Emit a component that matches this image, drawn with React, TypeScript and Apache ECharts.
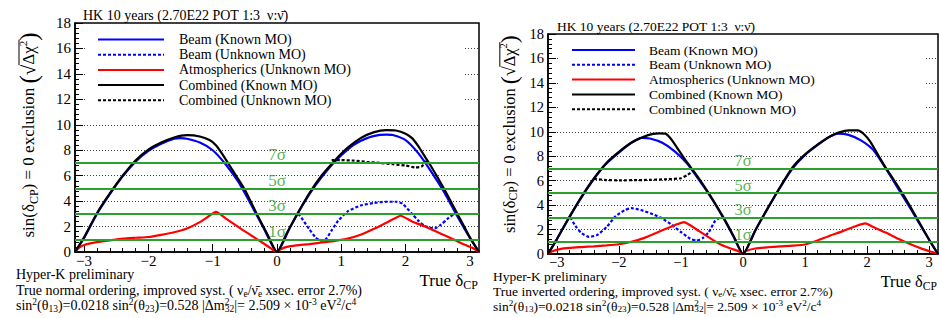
import React, { useEffect, useRef } from 'react';
import * as echarts from 'echarts';

const PI = Math.PI;
const FONT = 'Liberation Serif';

// ---------- tick values ----------
const xTicks = [-3, -2, -1, 0, 1, 2, 3];
const xMinorTicks = [
  -3.0, -2.8, -2.6, -2.4, -2.2, -2.0, -1.8, -1.6, -1.4, -1.2, -1.0, -0.8, -0.6, -0.4, -0.2, 0,
  0.2, 0.4, 0.6, 0.8, 1.0, 1.2, 1.4, 1.6, 1.8, 2.0, 2.2, 2.4, 2.6, 2.8, 3.0,
];
const sigmaLevels = [1, 3, 5, 7];
const sigmaLabels = ['1σ', '3σ', '5σ', '7σ'];
const sigmaLabelX = -0.13;

// ---------- Normal ordering (left panel) ----------
const noBeamKnown = [[-PI,0],[-3.0,1.1],[-2.8,3.0],[-2.6,4.55],[-2.4,5.95],[-2.2,7.1],[-2.0,7.95],[-1.8,8.5],[-1.6,8.9],[-1.5,8.95],[-1.4,8.9],[-1.2,8.6],[-1.0,8.0],[-0.8,6.9],[-0.6,5.5],[-0.4,3.7],[-0.2,1.8],[0,0],[0.2,1.9],[0.4,3.7],[0.6,5.25],[0.8,6.55],[1.0,7.6],[1.2,8.45],[1.4,8.95],[1.6,9.2],[1.7,9.23],[1.8,9.2],[2.0,8.8],[2.2,7.75],[2.4,6.3],[2.6,4.7],[2.8,2.85],[3.0,1.1],[PI,0]];
const noBeamUnknown = [[0.33,3.0],[0.4,2.55],[0.5,1.8],[0.6,1.15],[0.68,0.9],[0.75,0.95],[0.85,1.7],[0.95,2.45],[1.1,3.2],[1.3,3.65],[1.5,3.85],[1.7,3.95],[1.85,3.95],[1.95,3.8],[2.1,3.0],[2.2,2.45],[2.3,2.05],[2.45,1.85],[2.55,2.15],[2.65,2.6],[2.77,3.05]];
const noAtmos = [[-PI,0],[-3.1,0.25],[-3.0,0.55],[-2.8,0.78],[-2.6,0.92],[-2.4,1.05],[-2.2,1.12],[-2.0,1.18],[-1.8,1.35],[-1.6,1.55],[-1.4,1.85],[-1.2,2.35],[-1.05,2.85],[-0.95,3.15],[-0.8,2.65],[-0.6,1.95],[-0.4,1.3],[-0.2,0.65],[-0.1,0.3],[0,0],[0.05,0.2],[0.15,0.4],[0.3,0.52],[0.5,0.62],[0.7,0.75],[0.9,0.88],[1.1,1.05],[1.3,1.35],[1.5,1.8],[1.7,2.3],[1.85,2.7],[1.92,2.85],[2.1,2.4],[2.3,2.0],[2.5,1.55],[2.7,1.1],[2.9,0.6],[3.05,0.3],[PI,0]];
const noCombKnown = [[-PI,0],[-3.0,1.15],[-2.8,3.05],[-2.6,4.6],[-2.4,6.0],[-2.2,7.2],[-2.0,8.05],[-1.8,8.6],[-1.6,9.0],[-1.4,9.18],[-1.2,9.08],[-1.05,8.8],[-0.95,8.4],[-0.85,7.7],[-0.7,6.5],[-0.5,4.9],[-0.3,2.85],[-0.15,1.4],[0,0],[0.15,1.45],[0.3,2.85],[0.5,4.6],[0.7,6.05],[0.9,7.2],[1.1,8.2],[1.3,8.95],[1.5,9.4],[1.7,9.58],[1.85,9.55],[2.0,9.3],[2.1,8.95],[2.2,8.3],[2.3,7.5],[2.4,6.7],[2.6,4.95],[2.8,3.05],[3.0,1.15],[PI,0]];
const noCombUnknown = [[0.85,7.22],[1.0,7.22],[1.2,7.18],[1.4,7.08],[1.6,7.0],[1.8,6.9],[2.0,6.8],[2.15,6.65],[2.25,6.72],[2.34,7.25]];

// ---------- Inverted ordering (right panel) ----------
const ioBeamKnown = [[-PI,0],[-3.0,1.2],[-2.8,3.0],[-2.6,4.65],[-2.4,6.15],[-2.2,7.4],[-2.0,8.3],[-1.8,9.1],[-1.63,9.5],[-1.5,9.45],[-1.3,9.1],[-1.1,8.4],[-0.9,7.4],[-0.7,6.0],[-0.5,4.5],[-0.3,2.8],[-0.15,1.4],[0,0],[0.2,1.95],[0.4,3.75],[0.6,5.45],[0.8,7.0],[1.0,8.1],[1.2,8.9],[1.4,9.6],[1.53,9.85],[1.7,9.75],[1.9,9.3],[2.1,8.5],[2.3,7.0],[2.5,5.35],[2.7,3.7],[2.9,2.0],[3.05,0.75],[PI,0]];
const ioBeamUnknown = [[-2.78,3.0],[-2.7,2.3],[-2.6,1.7],[-2.48,1.4],[-2.35,1.55],[-2.2,2.2],[-2.05,3.1],[-1.9,3.6],[-1.8,3.75],[-1.65,3.6],[-1.45,3.25],[-1.3,2.9],[-1.15,2.4],[-1.0,1.8],[-0.85,1.25],[-0.75,1.1],[-0.65,1.3],[-0.55,1.8],[-0.45,2.7],[-0.36,3.0]];
const ioAtmos = [[-PI,0],[-3.08,0.2],[-2.95,0.4],[-2.8,0.5],[-2.6,0.57],[-2.4,0.63],[-2.2,0.7],[-2.0,0.8],[-1.8,1.0],[-1.6,1.3],[-1.4,1.72],[-1.2,2.15],[-1.05,2.45],[-0.95,2.6],[-0.85,2.35],[-0.7,1.85],[-0.5,1.2],[-0.35,0.75],[-0.2,0.45],[-0.08,0.25],[0,0],[0.05,0.25],[0.2,0.45],[0.4,0.55],[0.6,0.62],[0.8,0.68],[1.0,0.78],[1.2,1.1],[1.4,1.5],[1.6,1.85],[1.8,2.25],[1.97,2.5],[2.1,2.2],[2.3,1.75],[2.5,1.25],[2.7,0.8],[2.9,0.4],[3.05,0.15],[PI,0]];
const ioCombKnown = [[-PI,0],[-3.0,1.2],[-2.8,3.0],[-2.6,4.7],[-2.4,6.2],[-2.2,7.45],[-2.0,8.35],[-1.8,9.1],[-1.6,9.6],[-1.45,9.83],[-1.35,9.87],[-1.25,9.85],[-1.15,9.35],[-1.05,8.6],[-0.95,7.85],[-0.85,7.15],[-0.7,6.1],[-0.5,4.55],[-0.3,2.85],[-0.15,1.45],[0,0],[0.2,1.95],[0.4,3.75],[0.6,5.5],[0.8,7.1],[1.0,8.15],[1.2,8.95],[1.4,9.62],[1.55,9.95],[1.7,10.12],[1.85,10.12],[1.95,9.8],[2.05,9.2],[2.2,7.9],[2.3,7.05],[2.4,6.3],[2.6,4.7],[2.8,2.95],[3.0,1.15],[PI,0]];
const ioCombUnknown = [[-2.4,6.15],[-2.2,6.05],[-2.0,6.03],[-1.6,6.05],[-1.2,6.12],[-1.0,6.2],[-0.9,6.45],[-0.8,6.8]];

const legendNames = ['Beam (Known MO)', 'Beam (Unknown MO)', 'Atmospherics (Unknown MO)', 'Combined (Known MO)', 'Combined (Unknown MO)'];
const legendColors = ['#0000ff', '#0000ff', '#ff0000', '#000000', '#000000'];
const legendDashed = [false, true, false, false, true];

const GREEN = '#2ca02c';
const DASH = [3, 2];

// ---------- text layout helper ----------
let _ctx: CanvasRenderingContext2D | null = null;
function fontStr(s: number) {
  return `${Math.round(s * 10) / 10}px ${FONT}`;
}
function measure(t: string, s: number) {
  if (!_ctx) _ctx = document.createElement('canvas').getContext('2d');
  _ctx!.font = fontStr(s);
  return _ctx!.measureText(t).width;
}
type Tok = { t: string; s?: number; dy?: number; keep?: boolean };
function layoutRun(toks: Tok[], base: number, x0: number, y0: number, align: string, fill: string, z = 10) {
  let x = 0;
  const items: any[] = [];
  for (const tk of toks) {
    const s = tk.s ?? base;
    const w = measure(tk.t, s);
    items.push({ tk, s, x, w });
    if (!tk.keep) x += w;
  }
  const W = x;
  const start = align === 'left' ? x0 : align === 'right' ? x0 - W : x0 - W / 2;
  const els = items.map((it) => ({
    type: 'text',
    x: start + it.x,
    y: y0 + (it.tk.dy ?? 0),
    z,
    silent: true,
    style: {
      text: it.tk.t,
      font: fontStr(it.s),
      fill,
      align: 'left',
      verticalAlign: 'middle',
      textAlign: 'left',
      textVerticalAlign: 'middle',
    },
  }));
  const pos = items.map((it) => ({ x: start + it.x, w: it.w }));
  return { els, pos };
}

function yTitle(cx: number, cy: number, k: number) {
  const n = 17 * k, sm = 12 * k;
  const toks: Tok[] = [
    { t: 'sin(δ', s: n },
    { t: 'CP', s: sm, dy: 5 * k },
    { t: ') = 0 exclusion ', s: n },
    { t: '(', s: 25 * k, dy: 0 },
    { t: '√', s: 19 * k, dy: 0 },
    { t: 'Δχ', s: n },
    { t: '2', s: 11 * k, dy: -6 * k },
    { t: ')', s: 25 * k, dy: 0 },
  ];
  const r = layoutRun(toks, n, 0, 0, 'center', '#000');
  const p5 = r.pos[5], p6 = r.pos[6];
  const over = {
    type: 'line',
    silent: true,
    z: 10,
    shape: { x1: p5.x - 0.5, y1: -9.5 * k, x2: p6.x + p6.w + 1, y2: -9.5 * k },
    style: { stroke: '#000', lineWidth: 1 },
  };
  return { type: 'group', x: cx, y: cy, rotation: PI / 2, children: [...r.els, over] };
}

function bottomTexts(x: number, ys: number[], ordering: string, k: number) {
  const b = 14 * k, sb = 9.5 * k;
  const SUB = 3 * k, SUP = -4 * k;
  const l1 = layoutRun([{ t: 'Hyper-K preliminary' }], b, x, ys[0], 'left', '#000');
  const l2 = layoutRun([
    { t: `True ${ordering} ordering, improved syst. ( ν` },
    { t: 'e', s: sb, dy: SUB },
    { t: '/ν\u0304' },
    { t: 'e', s: sb, dy: SUB },
    { t: '\u00a0xsec. error 2.7%)' },
  ], b, x, ys[1], 'left', '#000');
  const l3 = layoutRun([
    { t: 'sin' }, { t: '2', s: sb, dy: SUP }, { t: '(θ' }, { t: '13', s: sb, dy: SUB },
    { t: ')=0.0218 sin' }, { t: '2', s: sb, dy: SUP }, { t: '(θ' }, { t: '23', s: sb, dy: SUB },
    { t: ')=0.528 |Δm' }, { t: '2', s: sb, dy: SUP, keep: true }, { t: '32', s: sb, dy: SUB },
    { t: '|= 2.509 × 10' }, { t: '-3', s: sb, dy: SUP }, { t: '\u00a0eV' }, { t: '2', s: sb, dy: SUP },
    { t: '/c' }, { t: '4', s: sb, dy: SUP },
  ], b, x, ys[2], 'left', '#000');
  return [...l1.els, ...l2.els, ...l3.els];
}

function legend(box: number[], lx1: number, lx2: number, tx: number, y0: number, dy: number, k: number) {
  const els: any[] = [
    { type: 'rect', silent: true, z: 5, shape: { x: box[0], y: box[1], width: box[2], height: box[3] }, style: { fill: '#fff' } },
  ];
  legendNames.forEach((nm, i) => {
    const y = y0 + dy * i;
    els.push({
      type: 'line', silent: true, z: 6,
      shape: { x1: lx1, y1: y, x2: lx2, y2: y },
      style: { stroke: legendColors[i], lineWidth: 2, lineDash: legendDashed[i] ? DASH : null },
    });
    els.push(...layoutRun([{ t: nm }], 14 * k, tx, y, 'left', '#000', 6).els);
  });
  return els;
}

function axesFor(p: number, k: number, xMargin: number) {
  const labelStyle = { fontFamily: FONT, fontSize: Math.round(15 * k * 10) / 10, color: '#000' };
  const xMain = {
    gridIndex: p, type: 'value', min: -PI, max: PI, position: 'bottom',
    axisLine: { show: true, onZero: false, lineStyle: { color: '#000', width: 1.5 } },
    axisTick: { show: true, inside: true, length: 8, customValues: xTicks, lineStyle: { color: '#000', width: 1 } },
    axisLabel: { ...labelStyle, margin: xMargin, customValues: xTicks, formatter: (v: number) => (v < 0 ? '\u2212' + Math.abs(v) : String(v)) },
    splitLine: { show: false },
  };
  const xMinor = {
    gridIndex: p, type: 'value', min: -PI, max: PI, position: 'bottom',
    axisLine: { show: false, onZero: false },
    axisTick: { show: true, inside: true, length: 4, customValues: xMinorTicks, lineStyle: { color: '#000', width: 1 } },
    axisLabel: { show: false },
    splitLine: { show: false },
  };
  const y = {
    gridIndex: p, type: 'value', min: 0, max: 18, interval: 2,
    axisLine: { show: true, onZero: false, lineStyle: { color: '#000', width: 1.5 } },
    axisTick: { show: true, inside: true, length: 8, lineStyle: { color: '#000', width: 1 } },
    minorTick: { show: true, splitNumber: 5, length: 4, lineStyle: { color: '#000', width: 1 } },
    axisLabel: { ...labelStyle, margin: 4 },
    splitLine: { show: true, lineStyle: { color: '#444', width: 1, type: [1, 2] } },
  };
  return { x: [xMain, xMinor], y };
}

function seriesFor(p: number, d: any, k: number) {
  const xi = p * 2, yi = p;
  const line = (data: number[][], color: string, dashed: boolean, name: string) => ({
    type: 'line', name, xAxisIndex: xi, yAxisIndex: yi, data,
    showSymbol: false, symbol: 'none', smooth: 0.2, silent: true, z: 3,
    lineStyle: { color, width: 2.2, type: dashed ? DASH : 'solid' },
  });
  return [
    {
      type: 'line', xAxisIndex: xi, yAxisIndex: yi, data: [], silent: true, z: 2,
      markLine: {
        silent: true, symbol: ['none', 'none'], label: { show: false },
        lineStyle: { color: GREEN, width: 2, type: 'solid' },
        data: sigmaLevels.map((v) => ({ yAxis: v })),
      },
    },
    {
      type: 'scatter', xAxisIndex: xi, yAxisIndex: yi, silent: true, z: 2,
      symbolSize: 1, itemStyle: { color: 'rgba(0,0,0,0)' },
      data: sigmaLevels.map((v, i) => ({ value: [sigmaLabelX, v], name: sigmaLabels[i] })),
      label: {
        show: true, formatter: '{b}', position: 'right', distance: 0, offset: [-1, -8 * k],
        fontFamily: FONT, fontSize: Math.round(17 * k * 10) / 10, color: GREEN,
      },
    },
    line(d.beamKnown, '#0000ff', false, 'Beam (Known MO)'),
    line(d.beamUnknown, '#0000ff', true, 'Beam (Unknown MO)'),
    line(d.atmos, '#ff0000', false, 'Atmospherics (Unknown MO)'),
    line(d.combKnown, '#000000', false, 'Combined (Known MO)'),
    line(d.combUnknown, '#000000', true, 'Combined (Unknown MO)'),
  ];
}

export default function App() {
  const ref = useRef<HTMLDivElement>(null);
  useEffect(() => {
    if (!ref.current) return;
    const chart = echarts.init(ref.current, null, { renderer: 'svg' });
    const kL = 1, kR = 0.965;
    const aL = axesFor(0, kL, 1), aR = axesFor(1, kR, 0);
    const graphic: any[] = [
      ...legend([85, 27, 380, 83], 98, 164, 179, 39.5, 15.2, kL),
      ...legend([558, 38, 366, 79], 572, 635, 649, 50, 14.8, kR),
      ...layoutRun([{ t: 'HK 10 years (2.70E22 POT 1:3\u00a0 ν:ν\u0304)' }], 14, 83, 15, 'left', '#000').els,
      ...layoutRun([{ t: 'HK 10 years (2.70E22 POT 1:3\u00a0 ν:ν\u0304)' }], 14 * kR, 557, 26.5, 'left', '#000').els,
      yTitle(28.5, 135, kL),
      yTitle(509, 134, kR),
      ...layoutRun([{ t: 'True δ', s: 17 }, { t: 'CP', s: 12, dy: 5 }], 17, 478, 280, 'right', '#000').els,
      ...layoutRun([{ t: 'True δ', s: 17 * kR }, { t: 'CP', s: 12 * kR, dy: 5 }], 17 * kR, 937, 281, 'right', '#000').els,
      ...bottomTexts(16, [274, 290.5, 305.5], 'normal', kL),
      ...bottomTexts(493, [276, 291.5, 306.5], 'inverted', kR),
    ];
    chart.setOption({
      animation: false,
      backgroundColor: '#fff',
      grid: [
        { left: 75, top: 23, width: 404, height: 229, show: true, borderColor: '#000', borderWidth: 1.5 },
        { left: 548, top: 34, width: 390, height: 220, show: true, borderColor: '#000', borderWidth: 1.5 },
      ],
      xAxis: [...aL.x, ...aR.x],
      yAxis: [aL.y, aR.y],
      series: [
        ...seriesFor(0, { beamKnown: noBeamKnown, beamUnknown: noBeamUnknown, atmos: noAtmos, combKnown: noCombKnown, combUnknown: noCombUnknown }, kL),
        ...seriesFor(1, { beamKnown: ioBeamKnown, beamUnknown: ioBeamUnknown, atmos: ioAtmos, combKnown: ioCombKnown, combUnknown: ioCombUnknown }, kR),
      ],
      graphic: { elements: graphic },
    });
    return () => chart.dispose();
  }, []);
  return <div ref={ref} style={{ position: 'absolute', left: 0, top: 0, width: 940, height: 318, background: '#fff' }} />;
}
